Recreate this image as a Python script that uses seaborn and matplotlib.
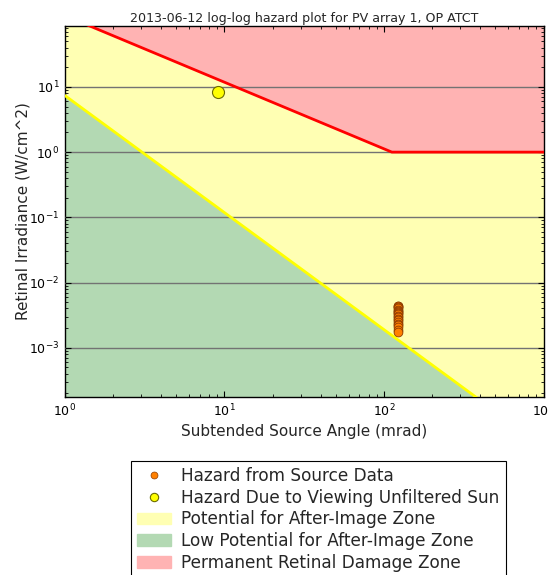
import matplotlib
matplotlib.use("Agg")
import matplotlib.pyplot as plt
import seaborn as sns
import numpy as np
import pandas as pd
from matplotlib.lines import Line2D
from matplotlib.patches import Patch

# ---------------- data ----------------
title = "2013-06-12 log-log hazard plot for PV array 1, OP ATCT"
x_label = "Subtended Source Angle (mrad)"
y_label = "Retinal Irradiance (W/cm^2)"

# boundary of permanent retinal damage zone (mrad, W/cm^2)
burn_x = [1.0, 112.0, 1100.0]
burn_y = [124.0, 1.0, 1.0]

# boundary of low-potential after-image zone
flash_x = [1.0, 1100.0]
flash_y = [7.36, 2.56e-5]

# hazard from source data
src_x = [123.0] * 19
src_y = [4.44e-3, 4.30e-3, 4.15e-3, 4.00e-3, 3.85e-3, 3.70e-3, 3.55e-3,
         3.40e-3, 3.25e-3, 3.10e-3, 2.95e-3, 2.80e-3, 2.65e-3, 2.50e-3,
         2.35e-3, 2.20e-3, 2.05e-3, 1.90e-3, 1.73e-3]

# hazard from viewing the unfiltered sun
sun_x = [9.06]
sun_y = [8.3]

legend_labels = ["Hazard from Source Data",
                 "Hazard Due to Viewing Unfiltered Sun",
                 "Potential for After-Image Zone",
                 "Low Potential for After-Image Zone",
                 "Permanent Retinal Damage Zone"]

x_lim = (1.0, 1000.0)
y_lim = (1.77e-4, 86.0)

# ---------------- styling ----------------
sns.set_theme(style="ticks")
plt.rcParams['font.family'] = ['DejaVu Sans']
plt.rcParams.update({
    "xtick.direction": "in", "ytick.direction": "in",
    "xtick.top": True, "ytick.right": True,
    "xtick.major.size": 4, "ytick.major.size": 4,
    "xtick.minor.size": 2, "ytick.minor.size": 2,
    "xtick.major.width": 0.8, "ytick.major.width": 0.8,
    "xtick.minor.width": 0.6, "ytick.minor.width": 0.6,
    "axes.edgecolor": "black", "axes.linewidth": 1.0,
    "xtick.color": "black", "ytick.color": "black",
})

YELLOW_FILL = "#FFFFB3"
GREEN_FILL = "#B3D9B3"
RED_FILL = "#FFB3B3"

fig = plt.figure(figsize=(5.48, 5.75), dpi=100)
ax = fig.add_axes([0.1186, 0.310, 0.8732, 0.6448])
ax.set_xscale("log")
ax.set_yscale("log")

top = y_lim[1] * 10
bottom = y_lim[0] / 10
full_x = [x_lim[0] * 0.9, x_lim[1] * 1.1]
# zones
ax.fill_between(full_x, [bottom, bottom], [top, top],
                color=YELLOW_FILL, lw=0, zorder=0.5)
ax.fill_between(flash_x, [bottom] * len(flash_x), flash_y,
                color=GREEN_FILL, lw=0, zorder=0.6)
ax.fill_between(burn_x, burn_y, [top] * len(burn_x),
                color=RED_FILL, lw=0, zorder=0.6)

# boundary lines
sns.lineplot(x=burn_x, y=burn_y, ax=ax, color="red", lw=2, zorder=3,
             estimator=None, sort=False)
sns.lineplot(x=flash_x, y=flash_y, ax=ax, color="yellow", lw=2, zorder=3,
             estimator=None, sort=False)

# points
sns.scatterplot(x=src_x, y=src_y, ax=ax, s=40, color="#FF8000",
                edgecolor="#8B3A00", linewidth=0.6, zorder=4)
sns.scatterplot(x=sun_x, y=sun_y, ax=ax, s=75, color="#FFFF00",
                edgecolor="#6B6B00", linewidth=0.8, zorder=4)

ax.set_xlim(*x_lim)
ax.set_ylim(*y_lim)
ax.set_axisbelow(False)
ax.yaxis.grid(True, which="major", color="0.45", lw=1.0)
ax.xaxis.grid(False)

ax.set_title(title, fontsize=9.1, pad=3)
ax.set_xlabel(x_label, fontsize=11, labelpad=4)
ax.set_ylabel(y_label, fontsize=11, labelpad=-1)
ax.tick_params(axis="both", which="major", labelsize=9, pad=4)

handles = [
    Line2D([], [], ls="none", marker="o", markersize=5,
           markerfacecolor="#FF8000", markeredgecolor="#8B3A00", markeredgewidth=0.5),
    Line2D([], [], ls="none", marker="o", markersize=6,
           markerfacecolor="#FFFF00", markeredgecolor="#6B6B00", markeredgewidth=0.8),
    Patch(facecolor=YELLOW_FILL, edgecolor=YELLOW_FILL),
    Patch(facecolor=GREEN_FILL, edgecolor=GREEN_FILL),
    Patch(facecolor=RED_FILL, edgecolor=RED_FILL),
]
leg = fig.legend(handles, legend_labels, loc="upper left",
                 bbox_to_anchor=(131 / 548, 1 - 461 / 575),
                 borderaxespad=0, fontsize=12.2, frameon=True, fancybox=False,
                 edgecolor="black", framealpha=1, handlelength=2.0,
                 labelspacing=0.22, borderpad=0.35, handletextpad=0.62)
leg.get_frame().set_linewidth(0.8)

fig.savefig("out.png", dpi=100)
